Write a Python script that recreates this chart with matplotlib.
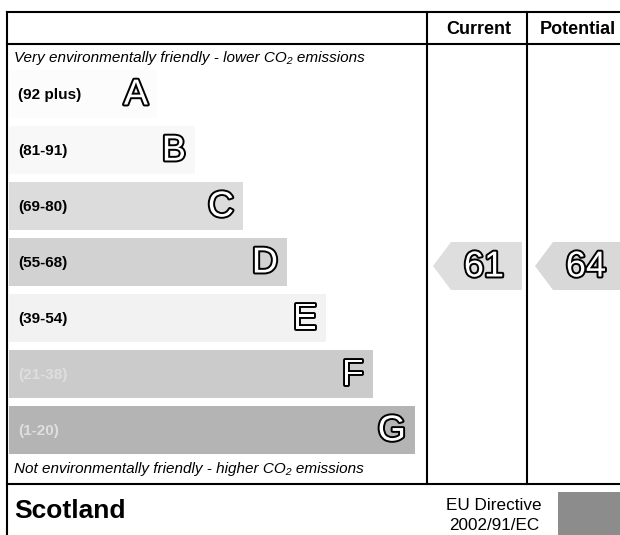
import matplotlib.pyplot as plt
import matplotlib.patheffects as pe
from matplotlib.patches import Rectangle

# dados do grafico (indice de impacto ambiental)
bandas = ["A", "B", "C", "D", "E", "F", "G"]
faixas = ["(92 plus)", "(81-91)", "(69-80)", "(55-68)", "(39-54)", "(21-38)", "(1-20)"]
limites = [(92, 200), (81, 91), (69, 80), (55, 68), (39, 54), (21, 38), (1, 20)]
comprimentos = [148, 186, 234, 278, 317, 364, 406]
cores = ["#fcfcfc", "#f8f8f8", "#dcdcdc", "#d2d2d2", "#f2f2f2", "#cbcbcb", "#b4b4b4"]
atual = 61
potencial = 64

FONTE = ["Liberation Sans", "DejaVu Sans"]
plt.rcParams["font.family"] = FONTE

fig = plt.figure(figsize=(6.2, 5.35), dpi=100)
ax = fig.add_axes([0, 0, 1, 1])
ax.set_xlim(0, 620)
ax.set_ylim(535, 0)
ax.axis("off")

topo, y0, passo, alt = 12, 94, 56, 48
ys = [y0 + passo * i for i in range(len(bandas))]

# barras das bandas
ax.barh(ys, comprimentos, left=9, height=alt, color=cores, zorder=1)

contorno = [pe.withStroke(linewidth=2.8, foreground="black")]
for i, b in enumerate(bandas):
    cor_txt = "black" if i < 5 else "#dedede"
    ax.text(18, ys[i] + 1, faixas[i], fontsize=11, fontweight="bold",
            color=cor_txt, va="center", ha="left", zorder=3)
    ax.text(9 + comprimentos[i] - 9, ys[i] + 1, b, fontsize=26, color="white",
            ha="right", va="center", path_effects=contorno, zorder=3)


def banda_de(valor):
    for i, (lo, hi) in enumerate(limites):
        if lo <= valor <= hi:
            return i
    return len(limites) - 1


def seta(x0, x1, valor, cor):
    yc = ys[banda_de(valor)] + 4
    h = alt / 2
    xs = [x0, x0 + 18, x1, x1, x0 + 18]
    yy = [yc, yc - h, yc - h, yc + h, yc + h]
    ax.fill(xs, yy, color=cor, zorder=1, lw=0)
    ax.text(x0 + 51, yc + 1, str(valor), fontsize=26, color="white",
            ha="center", va="center", path_effects=contorno, zorder=3)


seta(433, 522, atual, "#dedede")
seta(535, 640, potencial, "#d8d8d8")

# grade da tabela
lw = 1.5
ax.plot([7, 620], [topo, topo], color="black", lw=lw)
ax.plot([7, 620], [44, 44], color="black", lw=lw)
ax.plot([7, 620], [484, 484], color="black", lw=lw)
ax.plot([7, 7], [topo, 535], color="black", lw=lw)
ax.plot([427, 427], [topo, 484], color="black", lw=lw)
ax.plot([527, 527], [topo, 484], color="black", lw=lw)

ax.text(479, 29, "Current", fontsize=13, fontweight="bold", ha="center", va="center")
ax.text(578, 29, "Potential", fontsize=13, fontweight="bold", ha="center", va="center")

ax.text(14, 58, "Very environmentally friendly - lower CO₂ emissions",
        fontsize=11, style="italic", ha="left", va="center")
ax.text(14, 469, "Not environmentally friendly - higher CO₂ emissions",
        fontsize=11, style="italic", ha="left", va="center")

# rodape
ax.text(14, 511, "Scotland", fontsize=19, fontweight="bold", ha="left", va="center")
ax.text(494, 506, "EU Directive", fontsize=12.3, ha="center", va="center")
ax.text(494, 525, "2002/91/EC", fontsize=12.3, ha="center", va="center")
ax.add_patch(Rectangle((558, 492), 70, 50, facecolor="#8c8c8c", lw=0))

fig.savefig("out.png", dpi=100)
